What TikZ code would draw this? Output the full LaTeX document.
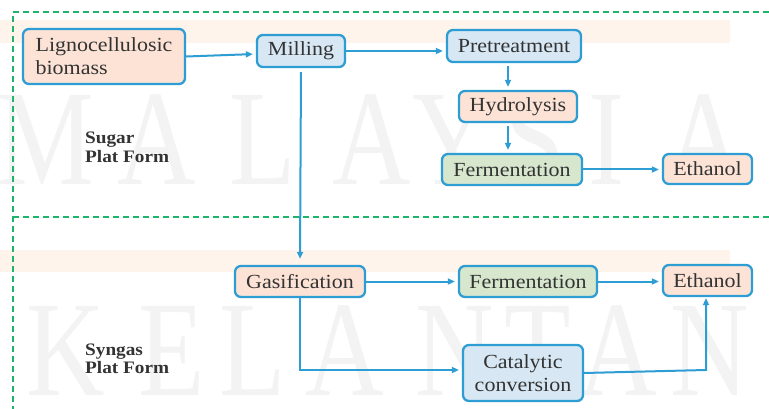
\documentclass[tikz,border=0pt]{standalone}
\usepackage{fontspec}
\setmainfont{Liberation Serif}[FakeStretch=1.1]
\newfontfamily\wmfont{Liberation Serif}
\usetikzlibrary{arrows.meta}

\definecolor{flowblue}{HTML}{2E9DD4}
\definecolor{fillorange}{HTML}{FCE3D6}
\definecolor{fillblue}{HTML}{D7E8F4}
\definecolor{fillgreen}{HTML}{D6E7CD}
\definecolor{zonegreen}{HTML}{1FB46C}
\definecolor{inkgray}{HTML}{333333}
\definecolor{bandorange}{HTML}{FFF4EC}
\definecolor{wmgray}{HTML}{F3F3F3}

\tikzset{
  stagebox/.style={draw=flowblue, line width=2.3pt, rounded corners=6pt,
    inner sep=0pt, text=inkgray, font=\fontsize{20}{23}\selectfont, align=center},
  flow/.style={draw=flowblue, line width=2pt,
    -{Triangle[length=7pt,width=6pt]}, shorten >=3pt},
  zone/.style={draw=zonegreen, line width=1.8pt, dash pattern=on 6pt off 4pt},
  platform/.style={anchor=base west, inner sep=0pt, text=inkgray,
    font=\bfseries\fontsize{17.5}{19}\selectfont},
  wm/.style={anchor=base, inner sep=0pt, text=wmgray,
    font=\wmfont\fontsize{136}{136}\selectfont},
}

\begin{document}
\begin{tikzpicture}[x=1pt,y=-1pt]
\useasboundingbox (0,0) rectangle (769,409);
\fill[white] (0,0) rectangle (769,409);

% pale background bands
\fill[bandorange] (0,20) rectangle (730,43);
\fill[bandorange] (0,250) rectangle (730,272);

% faint background lettering
\foreach \ch/\cx in {M/46, A/157, L/263, A/372, Y/452, S/535, I/607, A/705}
  \node[wm] at (\cx,185) {\scalebox{0.8}[1]{\ch}};
\foreach \ch/\cx in {K/66, E/172, L/253, A/345, N/455, T/538, A/618, N/710}
  \node[wm] at (\cx,395) {\scalebox{0.8}[1]{\ch}};

% platform zones
\draw[zone] (769,12) -- (13,12) -- (13,409);
\draw[zone] (13,217) -- (769,217);

% platform labels
\node[platform] (sugar1) at (85,144) {Sugar};
\node[platform] (sugar2) at (85,163) {Plat Form};
\node[platform] (syn1) at (85,355) {Syngas};
\node[platform] (syn2) at (85,373) {Plat Form};

% process stages
\node[stagebox, fill=fillorange, minimum width=162pt, minimum height=55pt, align=left]
  (ligno) at (104,56.5) {Lignocellulosic\\biomass};
\node[stagebox, fill=fillblue, minimum width=88pt, minimum height=32pt]
  (milling) at (301,51) {Milling};
\node[stagebox, fill=fillblue, minimum width=134pt, minimum height=32pt]
  (pretreat) at (514,46) {Pretreatment};
\node[stagebox, fill=fillorange, minimum width=118pt, minimum height=31pt]
  (hydro) at (518,106.5) {Hydrolysis};
\node[stagebox, fill=fillgreen, minimum width=140pt, minimum height=31pt]
  (fermA) at (512,169.5) {Fermentation};
\node[stagebox, fill=fillorange, minimum width=89pt, minimum height=30pt]
  (ethA) at (707.5,169) {Ethanol};
\node[stagebox, fill=fillorange, minimum width=130pt, minimum height=31pt]
  (gasif) at (300,281.5) {Gasification};
\node[stagebox, fill=fillgreen, minimum width=138pt, minimum height=31pt]
  (fermB) at (528,281.5) {Fermentation};
\node[stagebox, fill=fillorange, minimum width=89pt, minimum height=31pt]
  (ethB) at (707.5,280.5) {Ethanol};
\node[stagebox, fill=fillblue, minimum width=120pt, minimum height=56pt]
  (catal) at (523,373) {Catalytic\\conversion};

\coordinate (col) at (508,0);
\coordinate (elbow) at (706,370);

% connectors
\draw[flow] (ligno.east) -- ([yshift=-3pt]milling.west);
\draw[flow] (milling.east) -- (milling.east -| pretreat.west);
\draw[flow, shorten <=4pt, shorten >=6pt] (milling.south) -- (gasif.north);
\draw[flow, shorten <=3pt] (pretreat.south -| col) -- (hydro.north -| col);
\draw[flow, shorten <=3pt] (hydro.south -| col) -- (fermA.north -| col);
\draw[flow] (fermA.east) -- (fermA.east -| ethA.west);
\draw[flow] (gasif.east) -- (gasif.east -| fermB.west);
\draw[flow] (fermB.east) -- (fermB.east -| ethB.west);
\draw[flow] (gasif.south) |- ([yshift=3pt]catal.west);
\draw[flow, shorten >=1pt] (catal.east) -- (elbow) -- (elbow |- ethB.south);
\end{tikzpicture}
\end{document}
